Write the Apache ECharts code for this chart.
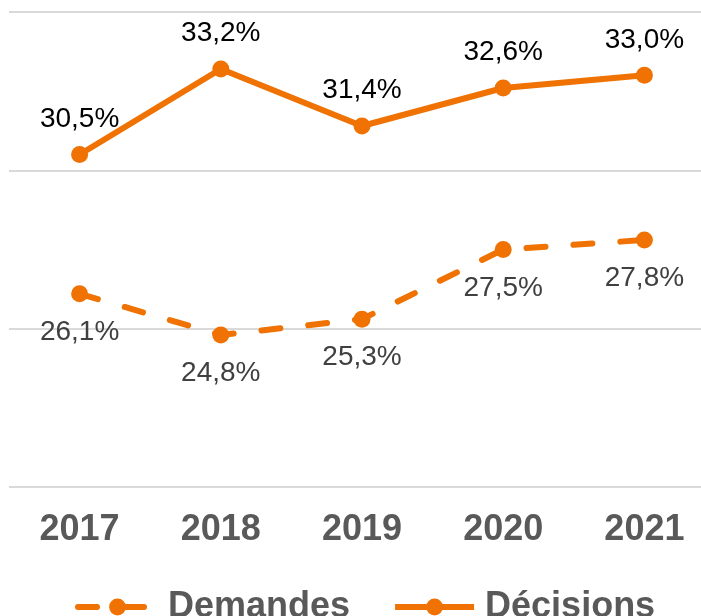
<!DOCTYPE html>
<html>
<head>
<meta charset="utf-8">
<script src="https://cdn.jsdelivr.net/npm/echarts@6/dist/echarts.min.js"></script>
<style>
  html, body { margin: 0; padding: 0; background: #fff; overflow: hidden; }
  #chart { width: 715px; height: 616px; }
</style>
</head>
<body>
<div id="chart"></div>
<script>
const years = ['2017', '2018', '2019', '2020', '2021'];
const demandes = [26.1, 24.8, 25.3, 27.5, 27.8];
const decisions = [30.5, 33.2, 31.4, 32.6, 33.0];

const orange = '#ef7203';
const fmt = p => p.value.toFixed(1).replace('.', ',') + '%';

const myChart = echarts.init(document.getElementById('chart'));

const option = {
    animation: false,
    textStyle: { fontFamily: 'Liberation Sans, Arial, sans-serif' },
    grid: { left: 9, right: 0, top: 12, bottom: 129 },
    legend: {
        left: 70,
        top: 584,
        itemWidth: 79,
        itemHeight: 21,
        itemGap: 42,
        lineStyle: { width: 6 },
        textStyle: {
            fontSize: 36,
            fontWeight: 'bold',
            color: '#595959',
            padding: [0, 0, 0, 6]
        },
        data: ['Demandes', 'Décisions']
    },
    xAxis: {
        type: 'category',
        data: years,
        axisLine: { show: false },
        axisTick: { show: false },
        axisLabel: {
            fontSize: 36,
            fontWeight: 'bold',
            color: '#595959',
            margin: 25
        }
    },
    yAxis: {
        type: 'value',
        min: 20,
        max: 35,
        interval: 5,
        axisLabel: { show: false },
        axisLine: { show: false },
        axisTick: { show: false },
        splitLine: { lineStyle: { color: '#d9d9d9', width: 2 } }
    },
    series: [
        {
            name: 'Demandes',
            type: 'line',
            data: demandes,
            symbol: 'circle',
            symbolSize: 17,
            color: orange,
            lineStyle: { width: 6, type: [19, 28], cap: 'round' },
            label: {
                show: true,
                position: 'bottom',
                distance: 16,
                fontSize: 28,
                color: '#404040',
                formatter: fmt
            }
        },
        {
            name: 'Décisions',
            type: 'line',
            data: decisions,
            symbol: 'circle',
            symbolSize: 17,
            color: orange,
            lineStyle: { width: 6 },
            label: {
                show: true,
                position: 'top',
                distance: 13,
                fontSize: 28,
                color: '#000',
                formatter: fmt
            }
        }
    ]
};

myChart.setOption(option);
</script>
</body>
</html>
